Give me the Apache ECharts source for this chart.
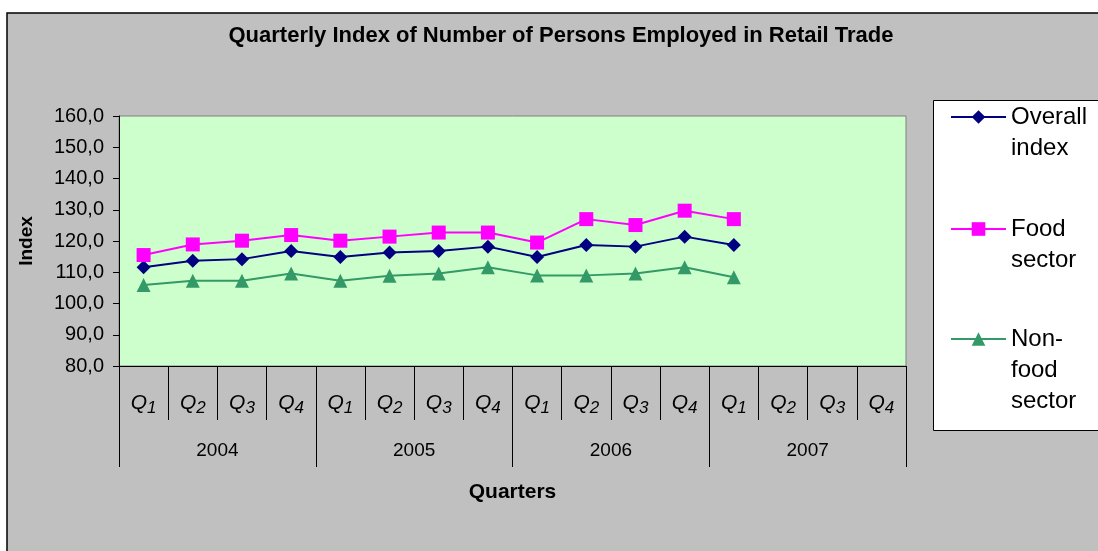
<!DOCTYPE html>
<html>
<head>
<meta charset="utf-8">
<script src="https://cdn.jsdelivr.net/npm/echarts@6/dist/echarts.min.js"></script>
<style>
  html, body { margin: 0; padding: 0; background: #fff; }
  #chart { width: 1098px; height: 551px; }
</style>
</head>
<body>
<div id="chart"></div>
<script>
// quarters on the axis, years underneath
const quarters = ['Q1', 'Q2', 'Q3', 'Q4', 'Q1', 'Q2', 'Q3', 'Q4', 'Q1', 'Q2', 'Q3', 'Q4', 'Q1', 'Q2', 'Q3', 'Q4']
const years = ['2004', '2005', '2006', '2007']

// index values (2004 Q1 .. 2007 Q1)
const overallIndex = [111.6, 113.7, 114.2, 116.8, 114.9, 116.3, 116.8, 118.2, 114.9, 118.7, 118.2, 121.4, 118.7]
const foodSector = [115.5, 118.9, 120.1, 121.9, 120.1, 121.4, 122.7, 122.7, 119.5, 127.0, 125.1, 129.7, 127.0]
const nonFoodSector = [105.9, 107.3, 107.3, 109.6, 107.3, 108.9, 109.6, 111.6, 109.0, 109.0, 109.6, 111.6, 108.4]

const names = ['Overall\nindex', 'Food\nsector', 'Non-\nfood\nsector']

const chart = echarts.init(document.getElementById('chart'))

const font = 'Arial, "Liberation Sans", sans-serif'
const lineH = 31

// one legend per series so the icon sits on the first text line
const legendFor = (name, iconY) => {
    const lines = name.split('\n').length
    const total = (2 * lines - 1) * lineH
    return {
        left: 950,
        top: iconY - total / 2,
        padding: 0,
        itemWidth: 55,
        itemHeight: 17,
        data: [name],
        formatter: n => '\n'.repeat(lines - 1) + n,
        textStyle: { fontFamily: font, fontSize: 24, lineHeight: lineH, color: '#000' }
    }
}

const option = {
    animation: false,
    backgroundColor: '#fff',
    textStyle: { fontFamily: font },
    graphic: [
        {
            type: 'rect',
            z: -100,
            shape: { x: 7, y: 13, width: 1100, height: 550 },
            style: { fill: '#c0c0c0', stroke: '#000', lineWidth: 1.5 }
        },
        {
            type: 'rect',
            z: -50,
            shape: { x: 933.5, y: 100.5, width: 170, height: 330 },
            style: { fill: '#fff', stroke: '#000', lineWidth: 1 }
        }
    ],
    title: {
        text: 'Quarterly Index of Number of Persons Employed in Retail Trade',
        left: 556,
        top: 20,
        textAlign: 'center',
        textStyle: { fontFamily: font, fontSize: 22, fontWeight: 'bold', color: '#000' }
    },
    legend: [
        legendFor(names[0], 117),
        legendFor(names[1], 229),
        legendFor(names[2], 339)
    ],
    grid: {
        left: 119,
        top: 116,
        right: 192,
        bottom: 185,
        show: true,
        backgroundColor: '#ccffcc',
        borderColor: '#808080',
        borderWidth: 1
    },
    xAxis: [
        {
            type: 'category',
            data: quarters,
            position: 'bottom',
            name: 'Quarters',
            nameLocation: 'middle',
            nameGap: 116,
            nameTextStyle: { fontFamily: font, fontSize: 21, fontWeight: 'bold', color: '#000' },
            axisLine: { show: true, lineStyle: { color: '#000', width: 1 } },
            axisTick: { show: true, interval: 0, length: 54, lineStyle: { color: '#000', width: 1 } },
            axisLabel: {
                interval: 0,
                margin: 24,
                formatter: v => '{q|Q}{s|' + v.slice(1) + '}',
                rich: {
                    q: { fontFamily: font, fontStyle: 'italic', fontSize: 21, color: '#000' },
                    s: { fontFamily: font, fontStyle: 'italic', fontSize: 17, color: '#000', padding: [10, 0, 0, 0] }
                }
            }
        },
        {
            type: 'category',
            data: years,
            position: 'bottom',
            offset: 0,
            axisLine: { show: false },
            axisTick: { show: true, interval: 0, length: 101, lineStyle: { color: '#000', width: 1 } },
            axisLabel: { interval: 0, margin: 75, fontFamily: font, fontSize: 19, color: '#000' }
        }
    ],
    yAxis: {
        type: 'value',
        min: 80,
        max: 160,
        interval: 10,
        name: 'Index',
        nameLocation: 'middle',
        nameRotate: 90,
        nameGap: 83,
        nameTextStyle: { fontFamily: font, fontSize: 19, fontWeight: 'bold', color: '#000' },
        axisLine: { show: true, lineStyle: { color: '#000' } },
        axisTick: { show: true, length: 6, lineStyle: { color: '#000' } },
        splitLine: { show: false },
        axisLabel: {
            margin: 15,
            fontFamily: font,
            fontSize: 20,
            color: '#000',
            formatter: v => v.toFixed(1).replace('.', ',')
        }
    },
    series: [
        {
            name: names[0],
            type: 'line',
            data: overallIndex,
            color: '#000080',
            symbol: 'diamond',
            symbolSize: 14,
            lineStyle: { width: 2 }
        },
        {
            name: names[1],
            type: 'line',
            data: foodSector,
            color: '#ff00ff',
            symbol: 'rect',
            symbolSize: 14,
            lineStyle: { width: 2 }
        },
        {
            name: names[2],
            type: 'line',
            data: nonFoodSector,
            color: '#339966',
            symbol: 'triangle',
            symbolSize: 14,
            lineStyle: { width: 2 }
        }
    ]
}

chart.setOption(option)
</script>
</body>
</html>
